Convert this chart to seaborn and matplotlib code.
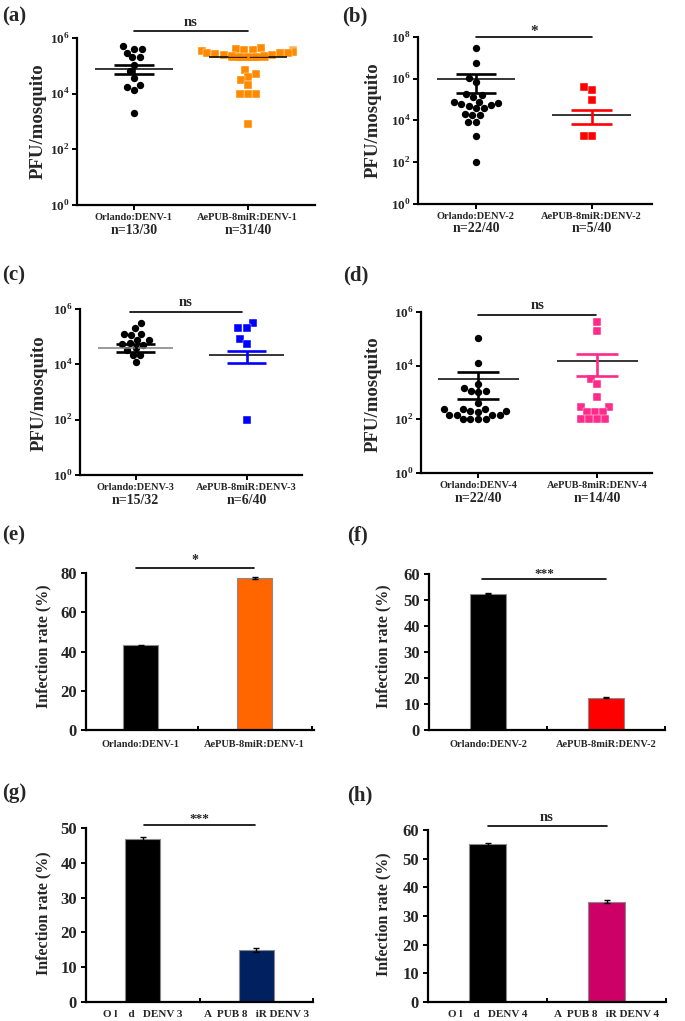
import warnings
warnings.filterwarnings('ignore')
import numpy as np
import pandas as pd
import matplotlib
matplotlib.use('Agg')
import matplotlib.pyplot as plt
from matplotlib.ticker import NullLocator
import seaborn as sns

sns.set_theme(style='ticks')
plt.rcParams['font.family'] = ['Liberation Serif', 'DejaVu Serif']
plt.rcParams['font.weight'] = 'bold'
plt.rcParams['axes.labelweight'] = 'bold'
plt.rcParams['mathtext.fontset'] = 'custom'
plt.rcParams['mathtext.rm'] = 'Liberation Serif'
plt.rcParams['mathtext.bf'] = 'Liberation Serif:bold'

# ---------------- data ----------------
cats_1 = ['Orlando:DENV-1', 'AePUB-8miR:DENV-1']
cats_2 = ['Orlando:DENV-2', 'AePUB-8miR:DENV-2']
cats_3 = ['Orlando:DENV-3', 'AePUB-8miR:DENV-3']
cats_4 = ['Orlando:DENV-4', 'AePUB-8miR:DENV-4']
cats_g = ['O l    d   DENV 3', 'A  PUB 8   iR DENV 3']
cats_h = ['O l    d   DENV 4', 'A  PUB 8   iR DENV 4']

n_a = ['n=13/30', 'n=31/40']
n_b = ['n=22/40', 'n=5/40']
n_c = ['n=15/32', 'n=6/40']
n_d = ['n=22/40', 'n=14/40']

orl_a = [4.1e5, 3.0e5, 4.1e5, 5.2e5, 2.0e5, 2.0e5, 1.1e5, 6.3e4, 3.8e4, 1.8e4, 1.4e4, 2.1e4, 2.1e3]
pub_a = [4.2e5, 4.0e5, 3.8e5, 3.7e5, 3.6e5, 3.5e5, 3.5e5, 3.5e5, 3.4e5, 3.3e5, 3.2e5, 3.0e5,
         2.9e5, 2.8e5, 2.6e5, 2.5e5, 2.4e5, 2.3e5, 2.2e5, 2.1e5, 2.1e5, 2.0e5,
         7.2e4, 5.0e4, 4.0e4, 3.0e4, 2.1e4, 1.0e4, 1.0e4, 1.0e4, 8.0e2]
mean_a = [7.6e4, 2.0e5]
hi_a = [1.1e5, 2.45e5]
lo_a = [5.0e4, 1.7e5]

orl_b = [2.9e7, 5.6e6, 1.05e6, 7.2e5, 1.8e5, 1.4e5, 1.66e5, 8.0e4, 7.1e4, 5.5e4, 3.8e4,
         3.8e4, 4.9e4, 6.2e4, 7.4e4, 1.8e4, 2.0e4, 1.8e4, 8.7e3, 8.7e3, 1.9e3, 1.0e2]
pub_b = [2.9e5, 3.9e5, 9.6e4, 1.9e3, 1.9e3]
mean_b = [9.6e5, 1.8e4]
hi_b = [1.7e6, 3.1e4]
lo_b = [2.0e5, 6.8e3]

orl_c = [3.0e5, 2.0e5, 1.3e5, 1.15e5, 1.3e5, 7.6e4, 7.3e4, 5.3e4, 5.0e4, 6.0e4,
         3.3e4, 2.2e4, 2.2e4, 1.25e4, 4.0e4]
pub_c = [3.0e5, 2.0e5, 2.0e5, 8.0e4, 5.3e4, 1.0e2]
mean_c = [4.0e4, 2.2e4]
hi_c = [5.3e4, 3.1e4]
lo_c = [2.9e4, 1.1e4]

orl_d = [1.05e5, 1.3e4, 2.0e3, 1.1e3, 1.0e3, 1.1e3, 1.5e3, 4.2e2, 1.9e2, 1.5e2, 2.0e2,
         2.4e2, 2.4e2, 1.5e2, 1.5e2, 2.4e2, 1.5e2, 1.0e2, 1.0e2, 1.0e2, 1.0e2, 2.0e2]
pub_d = [4.2e5, 2.0e5, 3.1e3, 2.0e3, 7.0e2, 3.0e2, 3.0e2, 1.9e2, 1.9e2, 1.9e2,
         1.0e2, 1.0e2, 1.0e2, 1.0e2]
mean_d = [3.1e3, 1.5e4]
hi_d = [5.6e3, 2.7e4]
lo_d = [5.6e2, 4.2e3]

rate_e = [43.2, 77.5]
err_e = [0.3, 0.4]
rate_f = [52.5, 12.5]
err_f = [0.3, 0.3]
rate_g = [46.8, 15.0]
err_g = [0.6, 0.5]
rate_h = [55.0, 35.0]
err_h = [0.5, 0.5]

# ---------------- figure ----------------
W, H = 685, 1021
fig = plt.figure(figsize=(W / 100, H / 100), dpi=100)


def box(l, t, r, b):
    return [l / W, 1 - b / H, (r - l) / W, (b - t) / H]


def ftext(x, y, s, **kw):
    fig.text(x / W, 1 - y / H, s, **kw)


def sig(ax, x0, x1, yf, s, yt, fs=10):
    tr = ax.get_xaxis_transform()
    ax.plot([x0, x1], [yf, yf], color='black', lw=1.2, transform=tr, clip_on=False)
    ax.text((x0 + x1) / 2, yt, s, transform=tr, ha='center', va='center',
            fontsize=fs, fontweight='bold')


def scatter_panel(rect, xlim, cats, ns, g1, g2, col2, mean, hi, lo, top,
                  meancols, sigargs):
    ax = fig.add_axes(box(*rect))
    df = pd.DataFrame({'group': [cats[0]] * len(g1) + [cats[1]] * len(g2),
                       'pfu': g1 + g2})
    sns.swarmplot(data=df[df.group == cats[0]], x='group', y='pfu', order=cats,
                  color='black', marker='o', size=5.3, log_scale=True, ax=ax)
    sns.swarmplot(data=df[df.group == cats[1]], x='group', y='pfu', order=cats,
                  color=col2, marker='s', size=5.3, log_scale=True,
                  edgecolor='white', linewidth=0.3, ax=ax)
    semcols = ['black', col2]
    for i in range(2):
        ax.hlines(mean[i], i - 0.34, i + 0.34, color=meancols[i], lw=1.1, zorder=5)
        ax.hlines([lo[i], hi[i]], i - 0.175, i + 0.175, color=semcols[i], lw=1.9, zorder=5)
        ax.vlines(i, lo[i], hi[i], color=semcols[i], lw=1.9, zorder=5)
    ax.set_ylim(1, 10 ** top)
    ax.set_xlim(*xlim)
    ks = list(range(0, top + 1, 2))
    ax.set_yticks([10 ** k for k in ks])
    ax.set_yticklabels([rf'$\mathbf{{10}}^{{{k}}}$' for k in ks])
    ax.yaxis.set_minor_locator(NullLocator())
    ax.set_xticks([0, 1])
    ax.set_xticklabels(cats)
    ax.set_xlabel('')
    ax.set_ylabel('')
    for s in ['top', 'right']:
        ax.spines[s].set_visible(False)
    for s in ['left', 'bottom']:
        ax.spines[s].set_linewidth(1.6)
        ax.spines[s].set_color('black')
    ax.tick_params(axis='both', direction='out', length=3.5, width=1.4, color='black')
    ax.tick_params(axis='y', labelsize=9.5, pad=2)
    ax.tick_params(axis='x', labelsize=7.5, pad=2)
    for lab in ax.get_xticklabels() + ax.get_yticklabels():
        lab.set_fontweight('bold')
    for i in range(2):
        ax.annotate(ns[i], xy=(i, 0), xycoords=ax.get_xaxis_transform(),
                    xytext=(0, -18), textcoords='offset points', ha='center',
                    va='center', fontsize=10, fontweight='bold')
    sig(ax, *sigargs)
    ax.set_facecolor('none')
    return ax


def bar_panel(rect, cats, vals, errs, col2, ymax, step, sigargs, xlim=(-0.5, 1.5),
              xfs=7.5, xpad=7):
    ax = fig.add_axes(box(*rect))
    sns.barplot(x=cats, y=vals, hue=cats, palette=['black', col2], width=0.31,
                legend=False, errorbar=None, saturation=1, edgecolor='#8a8a8a',
                linewidth=0.8, ax=ax)
    ax.errorbar([0, 1], vals, yerr=errs, fmt='none', ecolor='black', elinewidth=1.0,
                capsize=2.2, capthick=1.0, zorder=5)
    ax.set_ylim(0, ymax)
    ax.set_xlim(*xlim)
    ax.set_yticks(np.arange(0, ymax + 1, step))
    ax.set_xticks([0, 1])
    ax.set_xticklabels(cats)
    ax.set_xticks([0.5, 1.5], minor=True)
    for s in ['top', 'right']:
        ax.spines[s].set_visible(False)
    for s in ['left', 'bottom']:
        ax.spines[s].set_linewidth(1.6)
        ax.spines[s].set_color('black')
    ax.tick_params(axis='y', direction='out', length=3.5, width=1.4, labelsize=12, pad=3,
                   color='black')
    ax.tick_params(axis='x', which='major', length=0, labelsize=xfs, pad=xpad)
    ax.tick_params(axis='x', which='minor', direction='in', length=3, width=1.4,
                   color='black')
    for lab in ax.get_xticklabels() + ax.get_yticklabels():
        lab.set_fontweight('bold')
    ax.set_xlabel('')
    ax.set_ylabel('')
    sig(ax, *sigargs)
    ax.set_facecolor('none')
    return ax


# scatter panels
scatter_panel((77, 38, 315, 205), (-0.5, 1.59), cats_1, n_a, orl_a, pub_a, '#FF8A00',
              mean_a, hi_a, lo_a, 6, ['black', 'black'],
              (0, 1, 1.042, 'ns', 1.09, 10.5))
scatter_panel((418, 37, 652, 204), (-0.5, 1.52), cats_2, n_b, orl_b, pub_b, '#FF0000',
              mean_b, hi_b, lo_b, 8, ['black', 'black'],
              (0, 1, 1.0, '*', 1.035, 11))
scatter_panel((80, 309, 302, 475), (-0.5, 1.5), cats_3, n_c, orl_c, pub_c, '#0000FF',
              mean_c, hi_c, lo_c, 6, ['#808080', 'black'],
              (-0.05, 0.96, 0.984, 'ns', 1.04, 10.5))
scatter_panel((421, 312, 652, 473), (-0.48, 1.46), cats_4, n_d, orl_d, pub_d, '#FF2A8A',
              mean_d, hi_d, lo_d, 6, ['black', 'black'],
              (0, 0.99, 0.98, 'ns', 1.04, 10.5))

# bar panels
bar_panel((86, 573, 314, 730), cats_1, rate_e, err_e, '#FF6600', 80, 20,
          (-0.04, 0.99, 1.03, '*', 1.08, 10), xlim=(-0.48, 1.52))
bar_panel((429, 574, 665, 730), cats_2, rate_f, err_f, '#FF0000', 60, 10,
          (-0.05, 1.0, 0.968, '***', 1.0, 9.5))
bar_panel((86, 828, 313, 1002), cats_g, rate_g, err_g, '#002060', 50, 10,
          (0.01, 0.99, 1.017, '***', 1.05, 9.5), xfs=8, xpad=6)
bar_panel((428, 830, 666, 1002), cats_h, rate_h, err_h, '#CC0066', 60, 10,
          (0, 1, 1.023, 'ns', 1.075, 10.5), xfs=8, xpad=6)

# y labels
for (x, y) in [(38, 121), (373, 120), (39, 393), (373, 394)]:
    ftext(x, y, 'PFU/mosquito', rotation=90, ha='center', va='center',
          fontsize=13.5, fontweight='bold')
for (x, y) in [(43, 646), (383, 646), (43, 913), (383, 914)]:
    ftext(x, y, 'Infection rate (%)', rotation=90, ha='center', va='center',
          fontsize=11.5, fontweight='bold')

# panel labels
for (x, y, s) in [(2, 16, '(a)'), (342, 16, '(b)'), (2, 275, '(c)'), (343, 275, '(d)'),
                  (2, 535, '(e)'), (347, 535, '(f)'), (2, 793, '(g)'), (347, 795, '(h)')]:
    ftext(x, y, s, ha='left', va='center', fontsize=15, fontweight='bold')

fig.savefig('out.png', dpi=100, facecolor='white')
